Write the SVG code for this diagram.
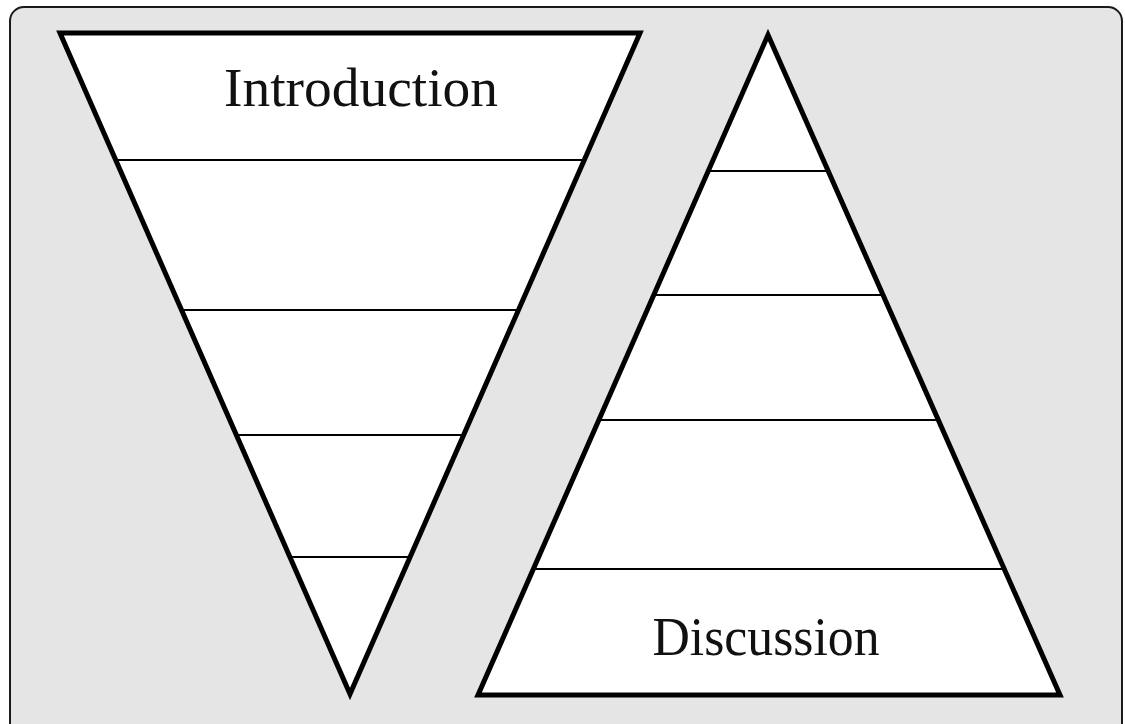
<svg xmlns="http://www.w3.org/2000/svg" width="1125" height="724" viewBox="0 0 1125 724">
<style>
.tri{fill:#ffffff;stroke:#000;stroke-width:5;stroke-linejoin:miter}
.div{stroke:#000;stroke-width:2;fill:none}
.lbl{font-family:"Liberation Serif",serif;font-size:55px;fill:#111}
</style>
<rect x="10" y="7" width="1112" height="740" rx="14" ry="14" fill="#e5e5e5" stroke="#1a1a1a" stroke-width="2"/>
<g id="funnel">
<polygon class="tri" points="60,33 640,33 350,694"/>
<text class="lbl" x="361" y="106" text-anchor="middle" textLength="274" lengthAdjust="spacingAndGlyphs">Introduction</text>
</g>
<g id="pyramid">
<polygon class="tri" points="768,35 478,695 1060,695"/>
<text class="lbl" x="766" y="655" text-anchor="middle" textLength="227" lengthAdjust="spacingAndGlyphs">Discussion</text>
</g>
<g id="connectors">
<line class="div" x1="116" y1="160" x2="584" y2="160"/>
<line class="div" x1="182" y1="310" x2="518" y2="310"/>
<line class="div" x1="237" y1="435" x2="463" y2="435"/>
<line class="div" x1="291" y1="557" x2="409" y2="557"/>
<line class="div" x1="708" y1="171" x2="828" y2="171"/>
<line class="div" x1="654" y1="295" x2="882" y2="295"/>
<line class="div" x1="599" y1="420" x2="937" y2="420"/>
<line class="div" x1="533" y1="569" x2="1003" y2="569"/>
</g>
</svg>
